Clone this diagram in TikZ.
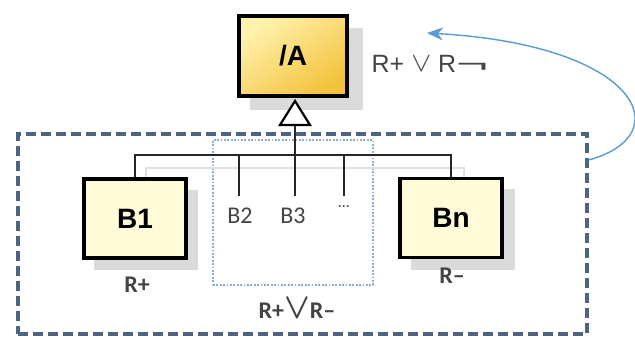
\documentclass[tikz,border=0pt]{standalone}
\usepackage{fontspec}
\usepackage{graphicx}
\setmainfont{Liberation Sans}
\newfontfamily\carl{Carlito}
\usetikzlibrary{arrows.meta}
\definecolor{boxfill}{HTML}{FFFBD8}
\definecolor{shadowgray}{HTML}{DADADA}
\definecolor{dashblue}{HTML}{4E6582}
\definecolor{dotblue}{HTML}{8AAED2}
\definecolor{arrowblue}{HTML}{5B9BD5}
\definecolor{labelgray}{HTML}{444444}
\definecolor{goldlight}{HTML}{FFF2AE}
\definecolor{golddark}{HTML}{F3C23C}
\tikzset{
  classbox/.style={draw=black, line width=3.8pt, fill=boxfill, minimum width=102pt, minimum height=79pt, font=\fontsize{28}{30}\selectfont\bfseries, inner sep=0pt},
  bus/.style={draw=black!85, line width=2.4pt},
  busshadow/.style={draw=black!12, line width=2pt},
  lbl/.style={text=labelgray, inner sep=0pt},
}
\begin{document}
\begin{tikzpicture}[x=1pt,y=-1pt]
\useasboundingbox[fill=white] (0,0) rectangle (635,340);
% outer dashed box
\node[draw=dashblue, line width=3.4pt, dash pattern=on 10pt off 5pt, minimum width=569pt, minimum height=200pt, inner sep=0pt] (outer) at (302.5,234) {};
% inner dotted box
\node[draw=dotblue, line width=1.8pt, dash pattern=on 1.8pt off 1.6pt, minimum width=160pt, minimum height=145pt, inner sep=0pt] (inner) at (293,212.5) {};
% shadows
\fill[shadowgray] (250,28) rectangle (363,110);
\fill[shadowgray] (94,190) rectangle (198,270);
\fill[shadowgray] (411,189) rectangle (515,270);
% bus shadow
\draw[busshadow] (146,180) -- (146,168) -- (464,168) -- (464,180);
% class A
\node[draw=black, line width=3.8pt, top color=goldlight, bottom color=golddark, shading angle=35, minimum width=108pt, minimum height=80pt, inner sep=0pt, font=\fontsize{28}{30}\selectfont\bfseries] (A) at (293,56) {/A};
% B boxes
\node[classbox] (B1) at (135,218.5) {B1};
\node[classbox] (Bn) at (451,218) {Bn};
% connectors
\coordinate (apex) at (295,101);
\coordinate (tribase) at (295,125);
\coordinate (bus) at (295,155);
\coordinate (busL) at (B1.north |- bus);
\coordinate (busR) at (Bn.north |- bus);
\coordinate (b2top) at (239,155);
\coordinate (b2end) at (239,196);
\coordinate (b3end) at (295,196);
\coordinate (bdtop) at (344,155);
\coordinate (bdend) at (344,196);
\draw[bus] (B1.north) -- (busL) -- (busR) -- (Bn.north);
\draw[bus] (tribase) -- (b3end);
\draw[bus] (b2top) -- (b2end);
\draw[bus] (bdtop) -- (bdend);
\draw[black, line width=2.2pt, fill=white, line join=miter] (apex) -- (280,125) -- (310,125) -- cycle;
% labels
\node[lbl, font=\carl\fontsize{24}{26}\selectfont] (lb2) at (240,216) {B2};
\node[lbl, font=\carl\fontsize{24}{26}\selectfont] (lb3) at (293,216) {B3};
\node[lbl, font=\bfseries\fontsize{12}{14}\selectfont] (lbd) at (344,208) {···};
\node[lbl, font=\carl\bfseries\fontsize{24}{26}\selectfont] (r1) at (137,285) {R+};
\node[lbl, font=\carl\bfseries\fontsize{24}{26}\selectfont] (rn) at (452,276) {R–};
\node[lbl, font=\carl\bfseries\fontsize{24}{26}\selectfont, anchor=base] (rmid) at (297,318) {R+\scalebox{1.35}[1.45]{\boldmath$\vee$}R–};
\node[lbl, font=\fontsize{25}{27}\selectfont] (rtop) at (430,64) {R+ \raisebox{1pt}{\scalebox{1.2}[1.1]{$\vee$}} R\scalebox{2.2}[1]{¬}};
% curved arrow
\coordinate (arrowend) at (427,33);
\draw[arrowblue, line width=1.4pt, -{Stealth[length=16pt,width=13pt]}] (outer.east |- 0,160) .. controls (680,135) and (640,45) .. (arrowend);
\end{tikzpicture}
\end{document}
